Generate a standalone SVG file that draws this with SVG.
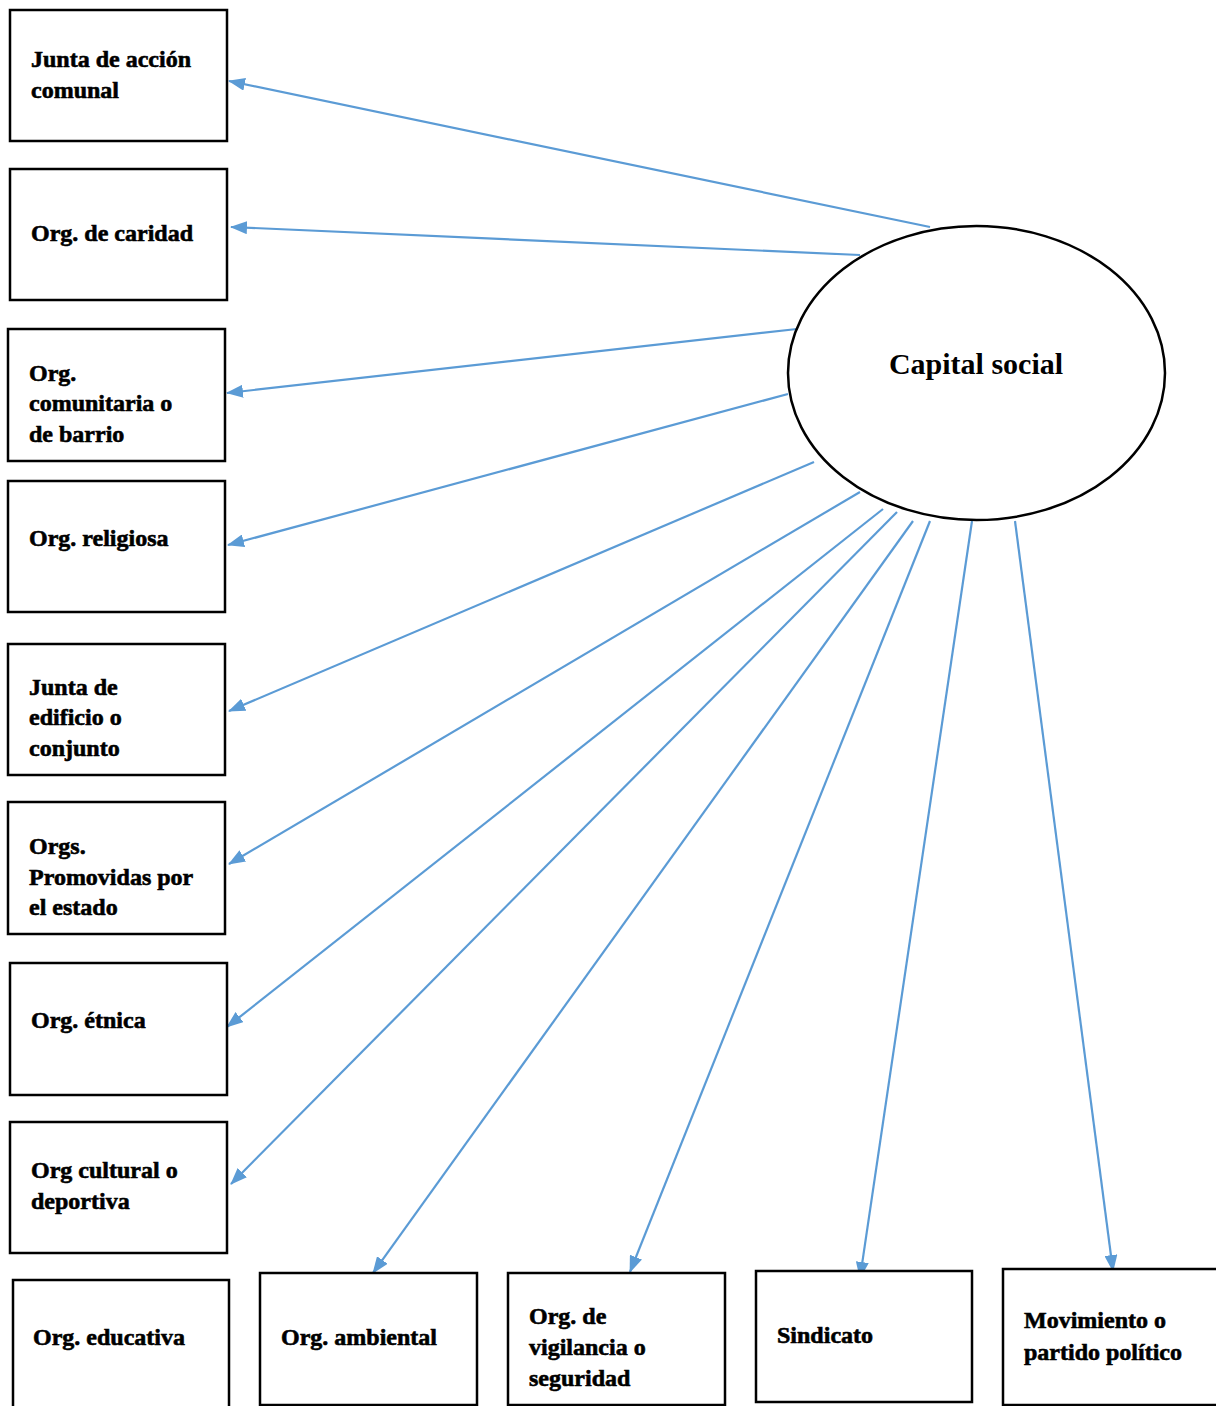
<svg xmlns="http://www.w3.org/2000/svg" width="1216" height="1406" viewBox="0 0 1216 1406">
<style>
.box{fill:#fff;stroke:#000;stroke-width:2.5}
.lbl{font-family:"Liberation Serif","Times New Roman",serif;font-weight:bold;font-size:24px;fill:#000;stroke:#000;stroke-width:0.6}
.cap{font-family:"Liberation Serif","Times New Roman",serif;font-weight:bold;font-size:30px;fill:#000}
.con{stroke:#5B9BD5;stroke-width:2.2;fill:none;marker-end:url(#ah)}
</style>
<defs>
<marker id="ah" markerUnits="userSpaceOnUse" markerWidth="17" markerHeight="13" refX="16" refY="6.5" orient="auto">
<path d="M0,0 L17,6.5 L0,13 Z" fill="#5B9BD5"/>
</marker>
</defs>
<rect width="1216" height="1406" fill="#fff"/>
<g id="connectors">
<line class="con" x1="930" y1="227" x2="229" y2="81"/>
<line class="con" x1="860" y1="255" x2="231" y2="227"/>
<line class="con" x1="797" y1="329" x2="227" y2="393"/>
<line class="con" x1="788" y1="394" x2="228" y2="545"/>
<line class="con" x1="814" y1="462" x2="229" y2="711"/>
<line class="con" x1="860" y1="492" x2="229" y2="864"/>
<line class="con" x1="883" y1="509" x2="227" y2="1027"/>
<line class="con" x1="897" y1="512" x2="231" y2="1184"/>
<line class="con" x1="913" y1="521" x2="373" y2="1273"/>
<line class="con" x1="930" y1="521" x2="630" y2="1272"/>
<line class="con" x1="972" y1="521" x2="860" y2="1278"/>
<line class="con" x1="1015" y1="521" x2="1113" y2="1271"/>
</g>
<g id="capital-social">
<ellipse cx="976.5" cy="373" rx="188.5" ry="147" fill="#fff" stroke="#000" stroke-width="2.5"/>
<text class="cap" x="976" y="374" text-anchor="middle">Capital social</text>
</g>
<g id="n1"><rect class="box" x="10" y="10" width="217" height="131"/><text class="lbl" x="31" y="67">Junta de acción</text><text class="lbl" x="31" y="98">comunal</text></g>
<g id="n2"><rect class="box" x="10" y="169" width="217" height="131"/><text class="lbl" x="31" y="241">Org. de caridad</text></g>
<g id="n3"><rect class="box" x="8" y="329" width="217" height="132"/><text class="lbl" x="29" y="381">Org.</text><text class="lbl" x="29" y="411">comunitaria o</text><text class="lbl" x="29" y="442">de barrio</text></g>
<g id="n4"><rect class="box" x="8" y="481" width="217" height="131"/><text class="lbl" x="29" y="546">Org. religiosa</text></g>
<g id="n5"><rect class="box" x="8" y="644" width="217" height="131"/><text class="lbl" x="29" y="695">Junta de</text><text class="lbl" x="29" y="725">edificio o</text><text class="lbl" x="29" y="756">conjunto</text></g>
<g id="n6"><rect class="box" x="8" y="802" width="217" height="132"/><text class="lbl" x="29" y="854">Orgs.</text><text class="lbl" x="29" y="885">Promovidas por</text><text class="lbl" x="29" y="915">el estado</text></g>
<g id="n7"><rect class="box" x="10" y="963" width="217" height="132"/><text class="lbl" x="31" y="1028">Org. étnica</text></g>
<g id="n8"><rect class="box" x="10" y="1122" width="217" height="131"/><text class="lbl" x="31" y="1178">Org cultural o</text><text class="lbl" x="31" y="1209">deportiva</text></g>
<g id="n9"><rect class="box" x="13" y="1280" width="216" height="132"/><text class="lbl" x="33" y="1345">Org. educativa</text></g>
<g id="n10"><rect class="box" x="260" y="1273" width="217" height="132"/><text class="lbl" x="281" y="1345">Org. ambiental</text></g>
<g id="n11"><rect class="box" x="508" y="1273" width="217" height="132"/><text class="lbl" x="529" y="1324">Org. de</text><text class="lbl" x="529" y="1355">vigilancia o</text><text class="lbl" x="529" y="1386">seguridad</text></g>
<g id="n12"><rect class="box" x="756" y="1271" width="216" height="131"/><text class="lbl" x="777" y="1343">Sindicato</text></g>
<g id="n13"><rect class="box" x="1003" y="1269" width="216" height="136"/><text class="lbl" x="1024" y="1328">Movimiento o</text><text class="lbl" x="1024" y="1360">partido político</text></g>
</svg>
